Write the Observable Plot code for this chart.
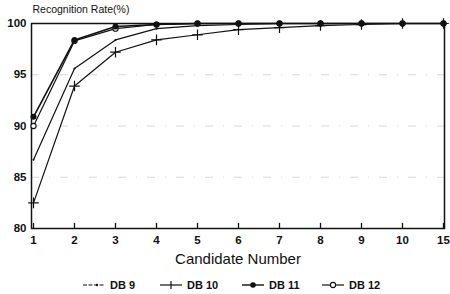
<!DOCTYPE html>
<html>
<head>
<meta charset="utf-8">
<script src="https://cdn.jsdelivr.net/npm/d3@7"></script>
<script src="https://cdn.jsdelivr.net/npm/@observablehq/plot@0.6"></script>
<style>
  html, body { margin: 0; padding: 0; background: #fff; }
  body { width: 450px; height: 294px; overflow: hidden; font-family: "Liberation Sans", Arial, sans-serif; }
  #legend { height: 24px; font-size: 11px; font-weight: bold; color: #111; position: relative; }
  .item { position: absolute; top: 9px; display: flex; align-items: center; }
  .item svg { margin-right: 4px; }
</style>
</head>
<body>
<div id="chart"></div>
<div id="legend"></div>
<script>
const candidates = ["1","2","3","4","5","6","7","8","9","10","15"];
const db9  = [86.7, 95.6, 98.4, 99.5, 99.8, 99.9, 100, 100, 100, 100, 100];
const db10 = [82.5, 93.9, 97.2, 98.4, 98.9, 99.4, 99.6, 99.8, 99.9, 100, 100];
const db11 = [90.9, 98.4, 99.7, 99.9, 100, 100, 100, 100, 100, 100, 100];
const db12 = [90.0, 98.3, 99.5, 99.9, 100, 100, 100, 100, 100, 100, 100];
const seriesNames = ["DB 9", "DB 10", "DB 11", "DB 12"];
const yTicks = [80, 85, 90, 95, 100];
const gridValues = [85, 90, 95];

const seriesValues = [db9, db10, db11, db12];
const rows = [];
seriesNames.forEach((s, i) => {
  candidates.forEach((c, j) => rows.push({series: s, candidate: c, rate: seriesValues[i][j]}));
});
const bySeries = name => rows.filter(r => r.series === name);

const chart = Plot.plot({
  width: 450,
  height: 270,
  marginLeft: 31,
  marginRight: 6,
  marginTop: 23,
  marginBottom: 42,
  style: {fontFamily: "'Liberation Sans', Arial, sans-serif", color: "#111", background: "#fff"},
  x: {type: "point", domain: candidates, padding: 0},
  y: {domain: [80, 100], ticks: yTicks},
  marks: [
    Plot.ruleY(gridValues, {stroke: "#aaa", strokeWidth: 0.8, strokeDasharray: "8,10,1,10", strokeOpacity: 0.6}),
    Plot.frame({stroke: "#111", strokeWidth: 1.5}),
    Plot.ruleX(candidates, {x: d => d, y1: 80, y2: 80.5, stroke: "#111", strokeWidth: 1.3}),
    Plot.axisY({ticks: yTicks, tickSize: 0, tickPadding: 5, fontSize: 11.5, fontWeight: "bold", label: null}),
    Plot.axisX({tickSize: 0, tickPadding: 7, fontSize: 11.5, fontWeight: "bold", label: null}),
    Plot.text(["Candidate Number"], {frameAnchor: "bottom", dy: 35, fontSize: 15, fill: "#111", text: d => d}),
    Plot.text(["Recognition Rate(%)"], {frameAnchor: "top-left", dy: -18, dx: 1, textAnchor: "start", fontSize: 10.5, fill: "#111", text: d => d}),
    Plot.line(bySeries("DB 9"), {x: "candidate", y: "rate", stroke: "#111", strokeWidth: 1.2}),
    Plot.dot(bySeries("DB 9"), {x: "candidate", y: "rate", r: 1, fill: "#111"}),
    Plot.line(bySeries("DB 10"), {x: "candidate", y: "rate", stroke: "#111", strokeWidth: 1.2}),
    Plot.dot(bySeries("DB 10"), {x: "candidate", y: "rate", symbol: "plus", r: 3.5, stroke: "#111", strokeWidth: 1.2}),
    Plot.line(bySeries("DB 12"), {x: "candidate", y: "rate", stroke: "#111", strokeWidth: 1.2}),
    Plot.dot(bySeries("DB 12"), {x: "candidate", y: "rate", r: 2.6, stroke: "#111", fill: "#fff", strokeWidth: 1.1}),
    Plot.line(bySeries("DB 11"), {x: "candidate", y: "rate", stroke: "#111", strokeWidth: 1.6}),
    Plot.dot(bySeries("DB 11"), {x: "candidate", y: "rate", r: 3, fill: "#111"})
  ]
});
document.getElementById("chart").appendChild(chart);

// Legend
const legend = document.getElementById("legend");
const legendPos = [83, 160, 242, 322];
const symbols = {
  "DB 9": '<line x1="0" y1="6" x2="22" y2="6" stroke="#111" stroke-width="1.2" stroke-dasharray="4,1.5"/><circle cx="14" cy="6" r="1.2" fill="#111"/>',
  "DB 10": '<line x1="0" y1="6" x2="22" y2="6" stroke="#111" stroke-width="1.2"/><line x1="11" y1="2" x2="11" y2="10" stroke="#111" stroke-width="1.2"/>',
  "DB 11": '<line x1="0" y1="6" x2="22" y2="6" stroke="#111" stroke-width="1.4"/><circle cx="11" cy="6" r="2.8" fill="#111"/>',
  "DB 12": '<line x1="0" y1="6" x2="22" y2="6" stroke="#111" stroke-width="1.2"/><circle cx="11" cy="6" r="2.6" fill="#fff" stroke="#111" stroke-width="1.1"/>'
};
seriesNames.forEach((s, i) => {
  const d = document.createElement("div");
  d.className = "item";
  d.style.left = legendPos[i] + "px";
  d.innerHTML = '<svg width="23" height="12">' + symbols[s] + '</svg><span>' + s + '</span>';
  legend.appendChild(d);
});
</script>
</body>
</html>
